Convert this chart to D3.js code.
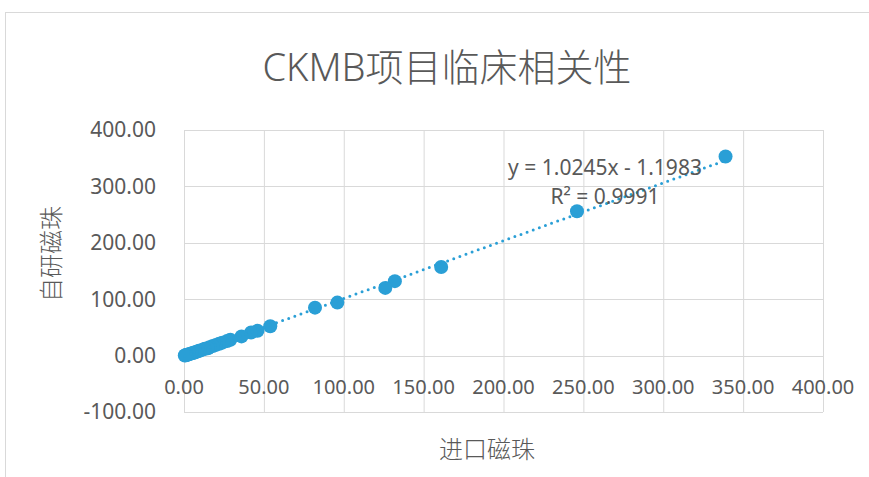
<!DOCTYPE html>
<html>
<head>
<meta charset="utf-8">
<script src="https://cdn.jsdelivr.net/npm/d3@7"></script>
<style>
  body { margin: 0; background: #fff; }
  svg text { fill: #595959; }
</style>
</head>
<body>
<div id="chart"></div>
<script>
// 进口磁珠 (x) vs 自研磁珠 (y)
const importX = [339, 246, 161, 132, 126, 96, 82, 54, 46, 42, 36,
    29, 27, 24, 22, 20, 18, 16, 15, 13, 12, 10, 9, 8, 7, 6, 5, 4, 3, 2, 1.5, 1, 0.5];
const selfY = [353, 256, 157, 132, 120, 94, 85, 52, 44, 41, 34,
    28, 26, 23, 21, 19, 17, 15, 13, 12, 11, 9, 8, 7, 6, 5, 4, 3.5, 2.5, 1.5, 1, 0.8, 0.3];

const xTicks = [0, 50, 100, 150, 200, 250, 300, 350, 400];
const yTicks = [-100, 0, 100, 200, 300, 400];

// linear trendline shown on the chart
const slope = 1.0245;
const intercept = -1.1983;
const r2 = 0.9991;

const titleText = "CKMB项目临床相关性";
const xTitle = "进口磁珠";
const yTitle = "自研磁珠";

const W = 869, H = 477;
const plot = { left: 184, right: 823, top: 130, bottom: 412 };
const blue = "#2a9fd6";
const grid = "#d9d9d9";
const numFont = "'Noto Sans', 'Open Sans', sans-serif";
const cjkFont = "'Noto Sans CJK SC', sans-serif";

const svg = d3.select("#chart").append("svg")
    .attr("width", W)
    .attr("height", H);

// chart frame
svg.append("rect")
    .attr("x", 5.5).attr("y", 12.5)
    .attr("width", 900).attr("height", 500)
    .attr("fill", "none")
    .attr("stroke", grid);

const x = d3.scaleLinear().domain([0, 400]).range([plot.left, plot.right]);
const y = d3.scaleLinear().domain([-100, 400]).range([plot.bottom, plot.top]);

// grid lines
svg.append("g").selectAll("line.v")
    .data(xTicks)
    .join("line")
    .attr("x1", d => x(d) + 0.5).attr("x2", d => x(d) + 0.5)
    .attr("y1", plot.top).attr("y2", plot.bottom)
    .attr("stroke", grid).attr("stroke-width", 1);

svg.append("g").selectAll("line.h")
    .data(yTicks)
    .join("line")
    .attr("x1", plot.left).attr("x2", plot.right)
    .attr("y1", d => Math.round(y(d)) + 0.5).attr("y2", d => Math.round(y(d)) + 0.5)
    .attr("stroke", grid).attr("stroke-width", 1);

// y tick labels
svg.append("g").selectAll("text")
    .data(yTicks)
    .join("text")
    .attr("x", plot.left - 28)
    .attr("y", d => y(d))
    .attr("dy", "0.35em")
    .attr("text-anchor", "end")
    .style("font-family", numFont)
    .style("font-size", "21px")
    .text(d => d.toFixed(2));

// x tick labels sit just under the y = 0 line
svg.append("g").selectAll("text")
    .data(xTicks)
    .join("text")
    .attr("x", d => x(d))
    .attr("y", y(0) + 31)
    .attr("dy", "0.35em")
    .attr("text-anchor", "middle")
    .style("font-family", numFont)
    .style("font-size", "20px")
    .text(d => d.toFixed(2));

// points
svg.append("g").selectAll("circle")
    .data(importX.map((v, i) => [v, selfY[i]]))
    .join("circle")
    .attr("cx", d => x(d[0]))
    .attr("cy", d => y(d[1]))
    .attr("r", 7)
    .attr("fill", blue);

// dotted trendline over the data range
const xMin = d3.min(importX), xMax = d3.max(importX);
svg.append("line")
    .attr("x1", x(xMin)).attr("y1", y(slope * xMin + intercept))
    .attr("x2", x(xMax)).attr("y2", y(slope * xMax + intercept))
    .attr("stroke", blue)
    .attr("stroke-width", 3)
    .attr("stroke-linecap", "round")
    .attr("stroke-dasharray", "0 6.5");

// equation label
const eq = svg.append("text")
    .attr("text-anchor", "middle")
    .style("font-family", numFont)
    .style("font-size", "21px");
eq.append("tspan").attr("x", 605).attr("y", 175)
    .text(`y = ${slope}x - ${Math.abs(intercept)}`);
eq.append("tspan").attr("x", 605).attr("y", 204)
    .text(`R² = ${r2}`);

// title
svg.append("text")
    .attr("x", 447).attr("y", 68)
    .attr("dy", "0.35em")
    .attr("text-anchor", "middle")
    .style("font-family", "'Noto Sans', 'Noto Sans CJK SC', sans-serif")
    .style("font-size", "38px")
    .style("font-weight", 300)
    .text(titleText);

// axis titles
svg.append("text")
    .attr("x", 487).attr("y", 450)
    .attr("dy", "0.35em")
    .attr("text-anchor", "middle")
    .style("font-family", cjkFont)
    .style("font-size", "24px")
    .style("font-weight", 300)
    .text(xTitle);

svg.append("text")
    .attr("transform", "translate(52,254) rotate(-90)")
    .attr("dy", "0.35em")
    .attr("text-anchor", "middle")
    .style("font-family", cjkFont)
    .style("font-size", "24px")
    .style("font-weight", 300)
    .text(yTitle);
</script>
</body>
</html>
